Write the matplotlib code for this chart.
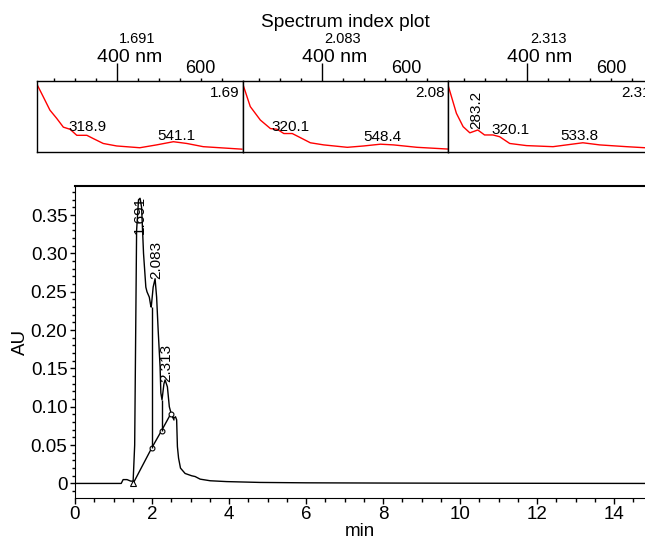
import numpy as np
import matplotlib
matplotlib.use('Agg')
import matplotlib.pyplot as plt
from matplotlib.ticker import MultipleLocator, FixedLocator

plt.rcParams['font.family'] = ['Liberation Sans', 'DejaVu Sans']

W, H = 645, 539
PT = 0.72  # points per pixel at dpi 100

# chromatogram (min, AU)
t = [0.0, 1.20, 1.25, 1.35, 1.45, 1.51, 1.55, 1.60, 1.65, 1.69, 1.73, 1.78,
     1.84, 1.87, 1.93, 1.97, 1.98, 2.03, 2.08, 2.12, 2.16, 2.21, 2.23, 2.26,
     2.31, 2.34, 2.40, 2.45, 2.51, 2.57, 2.61, 2.64, 2.66, 2.69, 2.74, 2.86,
     3.03, 3.12, 3.25, 3.51, 3.94, 4.81, 6.0, 8.0, 10.0, 14.8]
au = [0.0, 0.0, 0.005, 0.005, 0.003, 0.003, 0.05, 0.33, 0.37, 0.372, 0.36, 0.30,
      0.256, 0.25, 0.243, 0.231, 0.23, 0.256, 0.267, 0.243, 0.20, 0.152, 0.118, 0.109,
      0.13, 0.135, 0.126, 0.10, 0.089, 0.085, 0.087, 0.083, 0.048, 0.033, 0.02, 0.013,
      0.010, 0.009, 0.0056, 0.0035, 0.0024, 0.0013, 0.0008, 0.0005, 0.0003, 0.0]

# integration baseline and drop lines
base_t = [1.51, 1.99, 2.25, 2.49, 2.57]
base_au = [0.0, 0.046, 0.069, 0.091, 0.083]
drop_t = [1.99, 2.25]
drop_lo = [0.046, 0.069]
drop_hi = [0.23, 0.109]

# labelled peaks
peak_rt = [1.691, 2.083, 2.313]
peak_txt = ['1.691', '2.083', '2.313']

# spectra (nm, relative absorbance in panel)
spec_nm = [
    [211, 225, 241, 257, 273, 289, 305, 329, 344, 368, 400, 455, 495, 535, 567, 606, 698],
    [212, 229, 253, 277, 293, 309, 329, 344, 372, 404, 460, 499, 539, 570, 626, 698],
    [211, 231, 247, 263, 282, 298, 318, 334, 358, 398, 461, 532, 572, 636, 680, 700],
]
spec_val = [
    [0.944, 0.78, 0.59, 0.475, 0.35, 0.32, 0.235, 0.235, 0.19, 0.12, 0.085, 0.06, 0.10, 0.145, 0.12, 0.075, 0.04],
    [0.944, 0.64, 0.45, 0.33, 0.32, 0.26, 0.26, 0.215, 0.13, 0.10, 0.066, 0.085, 0.11, 0.10, 0.066, 0.042],
    [0.944, 0.545, 0.357, 0.27, 0.31, 0.24, 0.24, 0.215, 0.12, 0.09, 0.075, 0.13, 0.10, 0.075, 0.06, 0.05],
]
spec_rt = ['1.691', '2.083', '2.313']
spec_short = ['1.69', '2.08', '2.31']
spec_peaks = [['318.9', '541.1'], ['320.1', '548.4'], ['283.2', '320.1', '533.8']]

fig = plt.figure(figsize=(W / 100, H / 100), dpi=100)

# --- spectrum panels ---
panel_left = [37.3, 242.7, 448.0]
# label anchors (nm, value, rotation)
label_pos = [
    [(331, 0.30, 0), (541, 0.169, 0)],
    [(326, 0.30, 0), (543, 0.16, 0)],
    [(279, 0.33, 90), (361, 0.26, 0), (523, 0.169, 0)],
]
for i in range(3):
    sx = fig.add_axes([panel_left[i] / W, (H - 152) / H, 205.4 / W, 71 / H])
    sx.plot(spec_nm[i], spec_val[i], color='red', lw=1)
    sx.set_xlim(211, 700)
    sx.set_ylim(0, 1)
    sx.set_yticks([])
    sx.xaxis.tick_top()
    sx.set_xticks([400, 600])
    sx.set_xticklabels(['', '600'])
    sx.xaxis.set_minor_locator(FixedLocator([250, 300, 350, 450, 500, 550, 650]))
    sx.tick_params(axis='x', which='both', direction='out', length=3 * PT, width=1,
                   pad=0.5, labelsize=13)
    sx.xaxis.get_major_ticks()[0].tick2line.set_markersize(18 * PT)
    for s in sx.spines.values():
        s.set_linewidth(1)
    sx.annotate('400 nm', xy=(400, 1), xycoords=('data', 'axes fraction'),
                xytext=(-20 * PT, 19.3 * PT), textcoords='offset points',
                ha='left', va='baseline', fontsize=14, annotation_clip=False)
    sx.annotate(spec_rt[i], xy=(400, 1), xycoords=('data', 'axes fraction'),
                xytext=(2.6 * PT, 37.7 * PT), textcoords='offset points',
                ha='left', va='baseline', fontsize=10.5, annotation_clip=False)
    sx.annotate(spec_short[i], xy=(1, 1), xycoords='axes fraction',
                xytext=(-3 * PT, -5 * PT), textcoords='offset points',
                ha='right', va='top', fontsize=11, annotation_clip=False)
    for txt, (x, y, rot) in zip(spec_peaks[i], label_pos[i]):
        if rot:
            sx.text(x, y, txt, rotation=90, ha='center', va='bottom', fontsize=11)
        else:
            sx.text(x, y, txt, ha='center', va='baseline', fontsize=11)

fig.text(345 / W, 1 - 22.7 / H, 'Spectrum index plot', ha='center', va='center',
         fontsize=13.8)

# --- chromatogram ---
ax = fig.add_axes([75 / W, (H - 498) / H, (W - 75) / W, 312 / H])
ax.plot(t, au, color='black', lw=1)
ax.plot(base_t, base_au, color='black', lw=1)
ax.plot(base_t[:1], base_au[:1], '^', ms=4, mfc='white', mec='black', mew=0.8)
ax.plot(base_t[1:4], base_au[1:4], 'o', ms=3.5, mfc='white', mec='black', mew=0.8)
ax.vlines(drop_t, drop_lo, drop_hi, color='black', lw=1)

peak_au = [np.interp(r, t, au) for r in peak_rt]
label_off = [(0, -37), (1, 0), (2, 0)]
for r, a, txt, (dx, dy) in zip(peak_rt, peak_au, peak_txt, label_off):
    ax.annotate(txt, xy=(r, max(a, 0.0)), xytext=(dx * PT, dy * PT + 1),
                textcoords='offset points', rotation=90, ha='center', va='bottom',
                fontsize=11)

ax.set_xlim(0, (W - 75) / 38.5)
ax.set_ylim(-0.019, 0.388)
ax.spines['right'].set_visible(False)
ax.spines['top'].set_linewidth(1.5)
ax.set_xticks(range(0, 15, 2))
ax.xaxis.set_minor_locator(MultipleLocator(0.5))
yt = [0, 0.05, 0.10, 0.15, 0.20, 0.25, 0.30, 0.35]
ax.set_yticks(yt)
ax.set_yticklabels(['0'] + ['%.2f' % v for v in yt[1:]])
ax.yaxis.set_minor_locator(MultipleLocator(0.01))
ax.tick_params(which='major', direction='out', length=5.5 * PT, width=1,
               labelsize=13.5, pad=1.5)
ax.tick_params(which='minor', direction='out', length=3.5 * PT, width=1)
ax.tick_params(top=False, right=False)
ax.set_xlabel('min', fontsize=13.5, labelpad=0)
ax.set_ylabel('AU', fontsize=13.5, labelpad=1)

fig.savefig('out.png', dpi=100)
